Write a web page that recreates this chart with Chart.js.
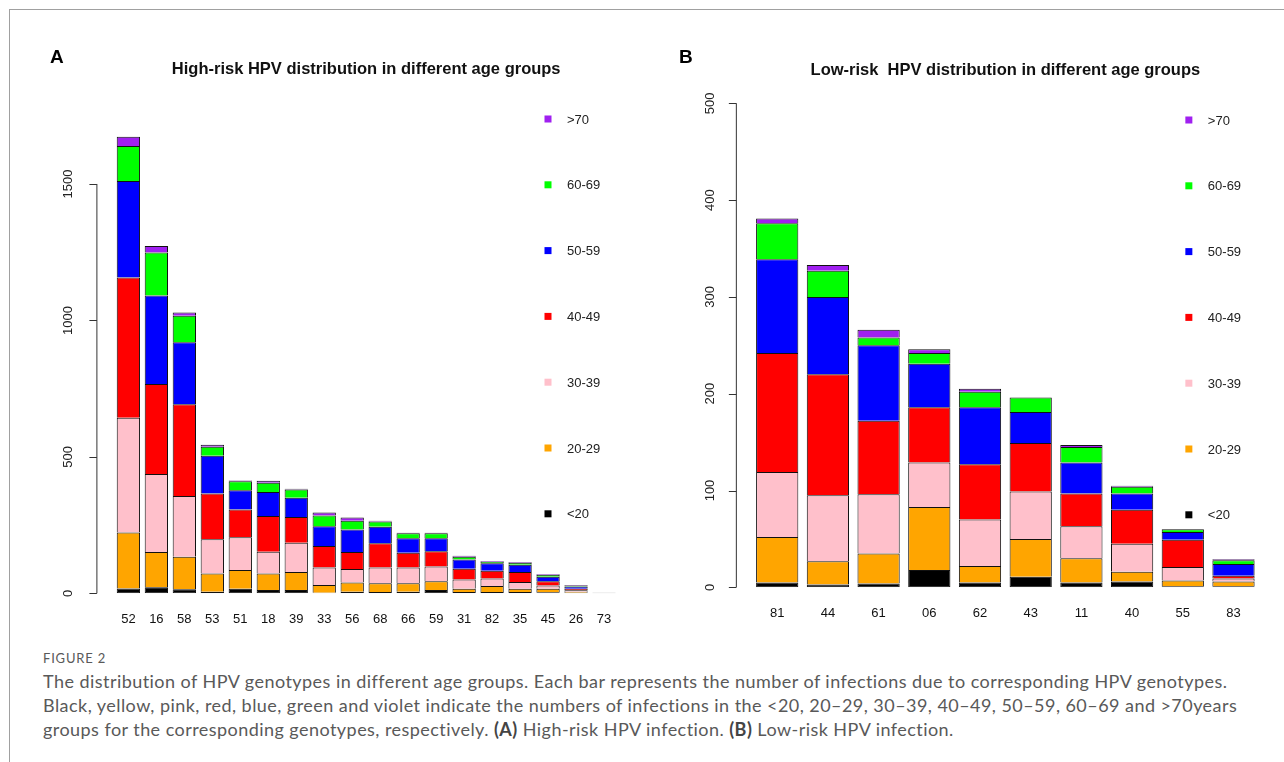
<!DOCTYPE html>
<html>
<head>
<meta charset="utf-8">
<title>HPV genotypes by age group</title>
<script src="https://cdn.jsdelivr.net/npm/chart.js@4/dist/chart.umd.min.js"></script>
<style>
    html, body { margin: 0; padding: 0; background: #fff; }
    .figure { position: relative; width: 1284px; height: 762px; overflow: hidden; }
    .frame { position: absolute; left: 9px; top: 9px; right: 0; bottom: 0;
             border-top: 1px solid #a0a0a0; border-left: 1px solid #a0a0a0; }
    .panel { position: absolute; top: 0; height: 640px; }
    #panel-a { left: 0; width: 650px; }
    #panel-b { left: 650px; width: 634px; }
    .letter { position: absolute; top: 46px; font: bold 19px 'Liberation Sans', Arial, sans-serif; color: #000; }
    .caption { position: absolute; left: 43px; top: 650px; font-family: Lato, 'Noto Sans', sans-serif; color: #595959; }
    .caption .label { font-size: 13px; line-height: 16px; letter-spacing: 0.8px; }
    .caption p { margin: 3px 0 0; font-size: 18px; line-height: 24px; letter-spacing: 0.45px; white-space: nowrap; }
    .caption b { color: #444; }
</style>
</head>
<body>
<div class="figure">
    <div class="frame"></div>
    <div class="panel" id="panel-a"><canvas id="chart-a"></canvas></div>
    <div class="panel" id="panel-b"><canvas id="chart-b"></canvas></div>
    <div class="letter" style="left: 50px;">A</div>
    <div class="letter" style="left: 679px;">B</div>
    <div class="caption">
        <div class="label">FIGURE 2</div>
        <p>The distribution of HPV genotypes in different age groups. Each bar represents the number of infections due to corresponding HPV genotypes.<br>
        Black, yellow, pink, red, blue, green and violet indicate the numbers of infections in the &lt;20, 20&ndash;29, 30&ndash;39, 40&ndash;49, 50&ndash;59, 60&ndash;69 and &gt;70years<br>
        groups for the corresponding genotypes, respectively. <b>(A)</b> High-risk HPV infection. <b>(B)</b> Low-risk HPV infection.</p>
    </div>
</div>

<script>
'use strict';

/* ── Age groups (bottom of the stack first) ── */
const ageGroups = ['<20', '20-29', '30-39', '40-49', '50-59', '60-69', '>70'];

/* ── High-risk genotypes ── */
const genotypesA = ['52', '16', '58', '53', '51', '18', '39', '33', '56', '68', '66', '59', '31', '82', '35', '45', '26', '73'];
const under20A = [18, 22, 15, 6, 17, 12, 12, 2, 6, 5, 6, 12, 5, 5, 5, 4, 2, 0];
const age20A   = [205, 129, 119, 67, 68, 61, 66, 28, 34, 32, 31, 32, 12, 22, 12, 13, 4, 0];
const age30A   = [420, 286, 223, 125, 120, 79, 107, 65, 49, 58, 58, 54, 34, 27, 24, 12, 5, 1];
const age40A   = [514, 330, 336, 168, 102, 131, 95, 78, 62, 88, 54, 56, 39, 29, 37, 15, 6, 1];
const age50A   = [354, 324, 227, 138, 71, 88, 70, 73, 83, 61, 53, 48, 34, 27, 27, 17, 8, 0];
const age60A   = [128, 158, 97, 33, 33, 34, 30, 39, 32, 19, 18, 18, 10, 6, 7, 6, 3, 0];
const over70A  = [34, 24, 12, 7, 2, 7, 3, 11, 12, 3, 2, 2, 4, 2, 3, 3, 2, 0];
const yTicksA  = [0, 500, 1000, 1500];

/* ── Low-risk genotypes ── */
const genotypesB = ['81', '44', '61', '06', '62', '43', '11', '40', '55', '83'];
const under20B = [5, 3, 4, 18, 5, 11, 5, 6, 1, 1];
const age20B   = [47, 24, 31, 65, 17, 39, 25, 10, 6, 5];
const age30B   = [67, 68, 61, 46, 48, 49, 33, 29, 14, 3];
const age40B   = [123, 125, 76, 57, 57, 50, 34, 35, 28, 3];
const age50B   = [97, 80, 78, 45, 59, 32, 32, 17, 8, 12];
const age60B   = [37, 27, 8, 11, 16, 15, 16, 7, 3, 4];
const over70B  = [5, 6, 8, 4, 3, 0, 2, 1, 0, 1];
const yTicksB  = [0, 100, 200, 300, 400, 500];

/* ── R base colours: black, orange, pink, red, blue, green, purple ── */
const AGE_COLORS = ['#000000', '#FFA500', '#FFC0CB', '#FF0000', '#0000FF', '#00FF00', '#A020F0'];

Chart.defaults.font.family = "'Liberation Sans', Arial, sans-serif";
Chart.defaults.color = '#111';

/* ── Base-graphics look: short y axis with rotated labels + inset legend ── */
const rStyle = {
    id: 'rStyle',
    afterDraw(chart, args, opts) {
        const { ctx, chartArea: area } = chart;
        const y = chart.scales.y;
        const ax = area.left - opts.axisGap;
        ctx.save();

        // axis line spans first..last tick only
        ctx.strokeStyle = '#333';
        ctx.lineWidth = 1;
        ctx.beginPath();
        ctx.moveTo(ax + 0.5, y.getPixelForValue(opts.ticks[0]));
        ctx.lineTo(ax + 0.5, y.getPixelForValue(opts.ticks[opts.ticks.length - 1]));
        opts.ticks.forEach(v => {
            const py = Math.round(y.getPixelForValue(v)) + 0.5;
            ctx.moveTo(ax + 0.5, py);
            ctx.lineTo(ax - 7, py);
        });
        ctx.stroke();

        ctx.fillStyle = '#222';
        ctx.font = "13px 'Liberation Sans', Arial, sans-serif";
        ctx.textAlign = 'center';
        ctx.textBaseline = 'middle';
        opts.ticks.forEach(v => {
            ctx.save();
            ctx.translate(ax - opts.labelOffset, y.getPixelForValue(v));
            ctx.rotate(-Math.PI / 2);
            ctx.fillText(String(v), 0, 0);
            ctx.restore();
        });

        // legend, top entry is the oldest group
        const sets = chart.data.datasets.slice().reverse();
        ctx.textAlign = 'left';
        sets.forEach((ds, i) => {
            const cy = opts.legendTop + i * opts.legendStep;
            const mx = area.right - 70;
            ctx.fillStyle = ds.backgroundColor;
            ctx.fillRect(mx - 3.5, cy - 3.5, 7, 7);
            ctx.fillStyle = '#222';
            ctx.fillText(ds.label, area.right - 51, cy + 1);
        });
        ctx.restore();
    },
};

function makeDatasets(series) {
    return series.map((data, i) => ({
        label: ageGroups[i],
        data,
        backgroundColor: AGE_COLORS[i],
        borderColor: '#111',
        borderWidth: i === 0 ? 1 : { top: 1, left: 1, right: 1, bottom: 0 },
        borderSkipped: false,
        categoryPercentage: 1,
        barPercentage: 0.833,
    }));
}

function makeChart(canvasId, cfg) {
    return new Chart(document.getElementById(canvasId), {
        type: 'bar',
        data: { labels: cfg.labels, datasets: makeDatasets(cfg.series) },
        plugins: [rStyle],
        options: {
            responsive: true,
            maintainAspectRatio: false,
            animation: false,
            layout: { padding: cfg.padding },
            scales: {
                x: {
                    stacked: true,
                    grid: { display: false, drawTicks: false },
                    border: { display: false },
                    ticks: { font: { size: 13 }, color: '#111', padding: 18, maxRotation: 0, autoSkip: false },
                    afterFit: (scale) => { scale.height = 40; },
                },
                y: {
                    stacked: true,
                    display: false,
                    min: 0,
                    max: cfg.yMax,
                },
            },
            plugins: {
                legend: { display: false },
                tooltip: { enabled: false },
                title: {
                    display: true,
                    text: cfg.title,
                    color: '#111',
                    font: { size: 16.5, weight: 'bold', lineHeight: 1.2 },
                    padding: { top: 0, bottom: cfg.titleGap },
                },
                rStyle: {
                    ticks: cfg.yTicks,
                    axisGap: cfg.axisGap,
                    labelOffset: cfg.labelOffset,
                    legendTop: cfg.legendTop,
                    legendStep: 65.8,
                },
            },
        },
    });
}

/* ── A: high-risk ── */
makeChart('chart-a', {
    labels: genotypesA,
    series: [under20A, age20A, age30A, age40A, age50A, age60A, over70A],
    title: 'High-risk HPV distribution in different age groups',
    yMax: 1700,
    yTicks: yTicksA,
    padding: { top: 60, left: 114.4, right: 32, bottom: 6.7 },
    titleGap: 49.6,
    axisGap: 18,
    labelOffset: 28,
    legendTop: 119,
});

/* ── B: low-risk ── */
makeChart('chart-b', {
    labels: genotypesB,
    series: [under20B, age20B, age30B, age40B, age50B, age60B, over70B],
    title: 'Low-risk  HPV distribution in different age groups',
    yMax: 500,
    yTicks: yTicksB,
    padding: { top: 61, left: 101.85, right: 25.15, bottom: 12.7 },
    titleGap: 22.5,
    axisGap: 16,
    labelOffset: 25,
    legendTop: 120,
});
</script>
</body>
</html>
